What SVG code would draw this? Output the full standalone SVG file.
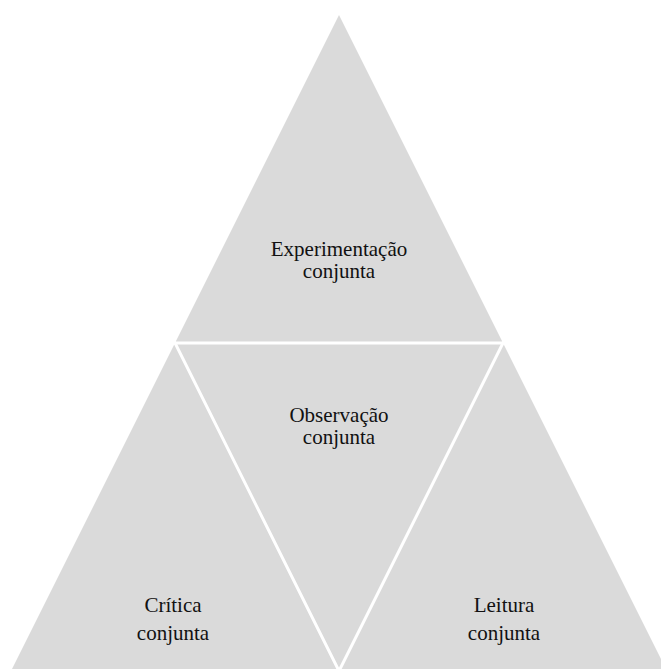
<svg xmlns="http://www.w3.org/2000/svg" width="661" height="669" viewBox="0 0 661 669">
  <style>
    .tri { fill: #dadada; stroke: none; }
    .div { stroke: #ffffff; stroke-width: 3; fill: none; stroke-linecap: square; }
    .lbl { font-family: "Liberation Serif", "Times New Roman", serif; font-size: 21px; fill: #111111; text-anchor: middle; }
  </style>
  <rect width="661" height="669" fill="#ffffff"/>
  <g id="node-experimentacao">
    <polygon class="tri" points="339,15 175,343 503,343"/>
    <text class="lbl" x="339" y="256">Experimentação</text>
    <text class="lbl" x="339" y="278">conjunta</text>
  </g>
  <g id="node-critica">
    <polygon class="tri" points="175,343 11,671 339,671"/>
    <text class="lbl" x="173" y="612">Crítica</text>
    <text class="lbl" x="173" y="640">conjunta</text>
  </g>
  <g id="node-observacao">
    <polygon class="tri" points="175,343 503,343 339,671"/>
    <text class="lbl" x="339" y="422">Observação</text>
    <text class="lbl" x="339" y="444">conjunta</text>
  </g>
  <g id="node-leitura">
    <polygon class="tri" points="503,343 339,671 667,671"/>
    <text class="lbl" x="504" y="612">Leitura</text>
    <text class="lbl" x="504" y="640">conjunta</text>
  </g>
  <g id="connectors">
    <line class="div" x1="175" y1="343" x2="503" y2="343"/>
    <line class="div" x1="175" y1="343" x2="339" y2="671"/>
    <line class="div" x1="503" y1="343" x2="339" y2="671"/>
  </g>
</svg>
